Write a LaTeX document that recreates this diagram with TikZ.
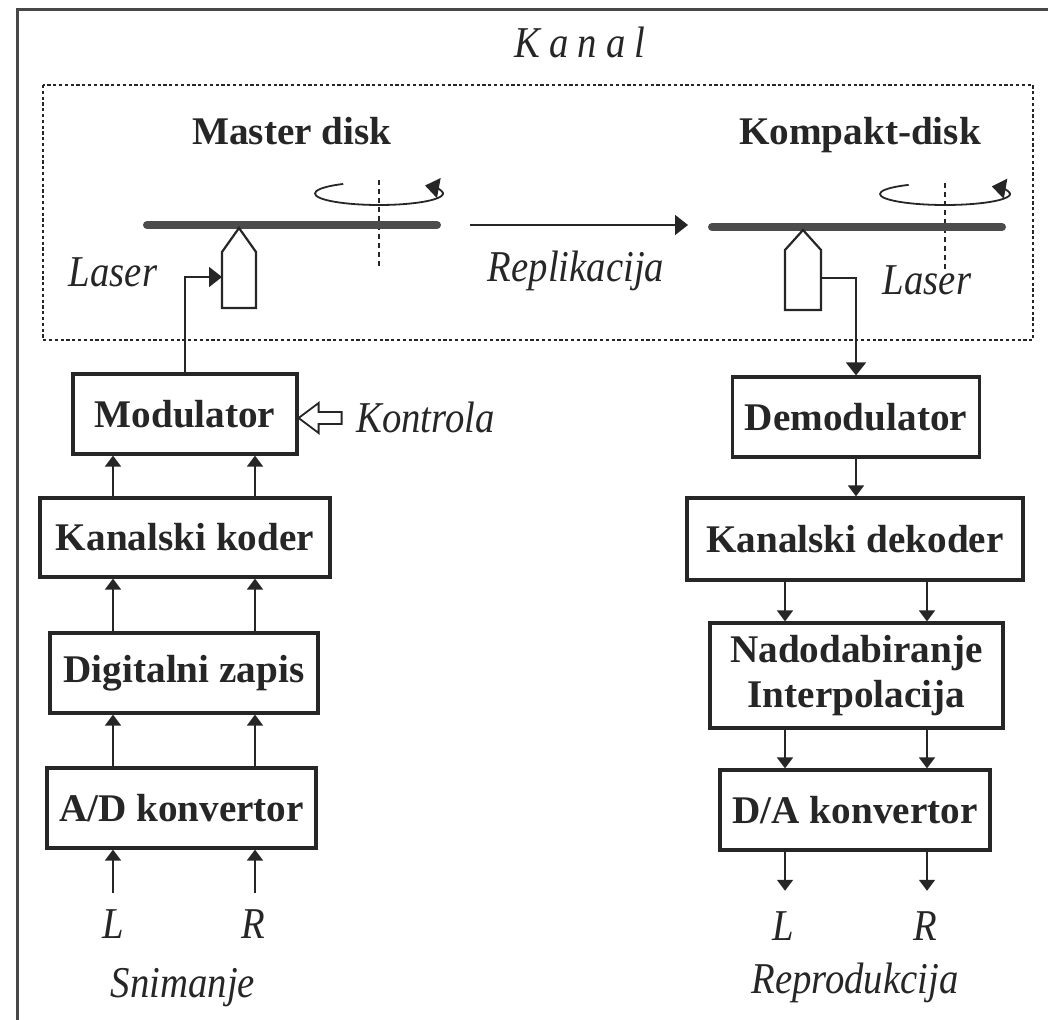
\documentclass[tikz,border=0pt]{standalone}
\usepackage{fontspec}
\setmainfont{Liberation Serif}
\newfontfamily\narrowserif[FakeStretch=0.88]{Liberation Serif}
\usetikzlibrary{arrows.meta,calc}
\definecolor{ink}{gray}{0.15}
\definecolor{diskgray}{gray}{0.3}

\tikzset{
  blockbox/.style 2 args={draw=ink, line width=1.6pt, inner sep=0pt,
    minimum width=#1*0.5pt, minimum height=#2*0.5pt, align=center,
    font=\fontsize{19.6}{22.5}\selectfont\bfseries, text=ink},
  itlabel/.style={inner sep=0pt, text=ink,
    font=\narrowserif\itshape\fontsize{22}{24}\selectfont},
  boldlabel/.style={inner sep=0pt, text=ink,
    font=\fontsize{19.6}{22.5}\selectfont\bfseries},
  sig/.style={draw=ink, line width=0.9pt, -{Triangle[width=8pt,length=5.5pt]}},
  bigsig/.style={draw=ink, line width=0.9pt, -{Triangle[width=10pt,length=6.5pt]}},
  channel/.style={draw=ink, line width=1.3pt, dash pattern=on 1.6pt off 1.3pt},
  spindle/.style={draw=ink, line width=0.9pt, dash pattern=on 2.5pt off 2pt},
  disk/.style={draw=diskgray, line width=4pt, line cap=round},
  head/.style={draw=ink, line width=1.1pt, fill=white, line join=miter},
  spin/.style={draw=ink, line width=0.9pt, -{Triangle[width=10pt,length=7pt]}},
  hollow/.style={draw=ink, line width=0.9pt, fill=white, line join=miter},
}

\begin{document}
\begin{tikzpicture}[x=0.5pt, y=-0.5pt]
\useasboundingbox (0,0) rectangle (1048,1020);

% page frame (top and left edges)
\draw[ink!85, line width=1.5pt] (1048,10) -- (17,10) -- (17,1020);

% channel
\node[itlabel, anchor=base] (kanal) at (580,58)
  {K\kern4.5pt a\kern4.5pt n\kern4.5pt a\kern4.5pt l};
\draw[channel] (43,85) rectangle (1033,340);

\node[boldlabel, anchor=base] (mlabel) at (292,145) {Master disk};
\node[boldlabel, anchor=base] (clabel) at (860,145) {Kompakt-disk};

% master disk with spindle, rotation and recording head
\draw[spindle] (379,180) -- (379,267);
\draw[disk] (147,225) -- (437,225);
\draw[spin] (379,193.5) ++(236:64 and 11.5)
  arc[start angle=236, end angle=-44, x radius=64, y radius=11.5];
\draw[head] (239,228) -- (256,252) -- (256,308) -- (222,308) -- (222,252) -- cycle;
\coordinate (lhL) at (222,277);
\node[itlabel, anchor=base] (laserL) at (113,287) {Laser};

% compact disk with spindle, rotation and reading head
\draw[spindle] (945,183) -- (945,270);
\draw[disk] (712,227) -- (1002,227);
\draw[spin] (945,194) ++(236:65 and 11)
  arc[start angle=236, end angle=-44, x radius=65, y radius=11];
\draw[head] (803,230) -- (821,250) -- (821,310) -- (785,310) -- (785,250) -- cycle;
\coordinate (lhR) at (821,278);
\node[itlabel, anchor=base] (laserR) at (927,295) {Laser};

% replication
\coordinate (repA) at (470,225);
\coordinate (repB) at (688,225);
\draw[bigsig] (repA) -- (repB);
\node[itlabel, anchor=base] (repl) at (576,282) {Replikacija};

% recording chain
\node[blockbox={224}{80}] (mod)  at (185,414)   {Modulator};
\node[blockbox={290}{79}] (kkod) at (185,537.5) {Kanalski koder};
\node[blockbox={268}{80}] (dig)  at (184,673)   {Digitalni zapis};
\node[blockbox={269}{80}] (adc)  at (181.5,808) {A/D konvertor};

\node[itlabel, anchor=base west] (ctl) at (356,433) {Kontrola};
\draw[hollow] (mod.east |- 0,418) -- ++(20,-15) -- ++(0,9) -- ++(23,0)
  -- ++(0,12) -- ++(-23,0) -- ++(0,9) -- cycle;

\coordinate (cL) at (113,0);
\coordinate (cR) at (255,0);
\draw[bigsig] (mod.north) |- (lhL);
\draw[sig] (kkod.north -| cL) -- (mod.south -| cL);
\draw[sig] (kkod.north -| cR) -- (mod.south -| cR);
\draw[sig] (dig.north -| cL) -- (kkod.south -| cL);
\draw[sig] (dig.north -| cR) -- (kkod.south -| cR);
\draw[sig] (adc.north -| cL) -- (dig.south -| cL);
\draw[sig] (adc.north -| cR) -- (dig.south -| cR);

\node[itlabel, anchor=base] (inL) at (113,938) {L};
\node[itlabel, anchor=base] (inR) at (253,938) {R};
\draw[sig, shorten <=8pt] (inL.north -| cL) -- (adc.south -| cL);
\draw[sig, shorten <=8pt] (inR.north -| cR) -- (adc.south -| cR);
\node[itlabel, anchor=base] (snim) at (183,997) {Snimanje};

% playback chain
\node[blockbox={247}{80}]  (demod) at (856,417)   {Demodulator};
\node[blockbox={336}{82}]  (kdek)  at (855,539)   {Kanalski dekoder};
\node[blockbox={293}{105}] (nad)   at (856.5,675.5) {Nadodabiranje\\Interpolacija};
\node[blockbox={270}{80}]  (dac)   at (855,810)   {D/A konvertor};

\coordinate (dL) at (785,0);
\coordinate (dR) at (927,0);
\draw[bigsig] (lhR) -| (demod.north);
\draw[sig] (demod.south) -- (demod.south |- kdek.north);
\draw[sig] (kdek.south -| dL) -- (nad.north -| dL);
\draw[sig] (kdek.south -| dR) -- (nad.north -| dR);
\draw[sig] (nad.south -| dL) -- (dac.north -| dL);
\draw[sig] (nad.south -| dR) -- (dac.north -| dR);

\node[itlabel, anchor=base] (outL) at (783,940) {L};
\node[itlabel, anchor=base] (outR) at (925,940) {R};
\draw[sig, shorten >=10pt] (dac.south -| dL) -- (outL.north -| dL);
\draw[sig, shorten >=10pt] (dac.south -| dR) -- (outR.north -| dR);
\node[itlabel, anchor=base] (repro) at (855,993) {Reprodukcija};
\end{tikzpicture}
\end{document}
